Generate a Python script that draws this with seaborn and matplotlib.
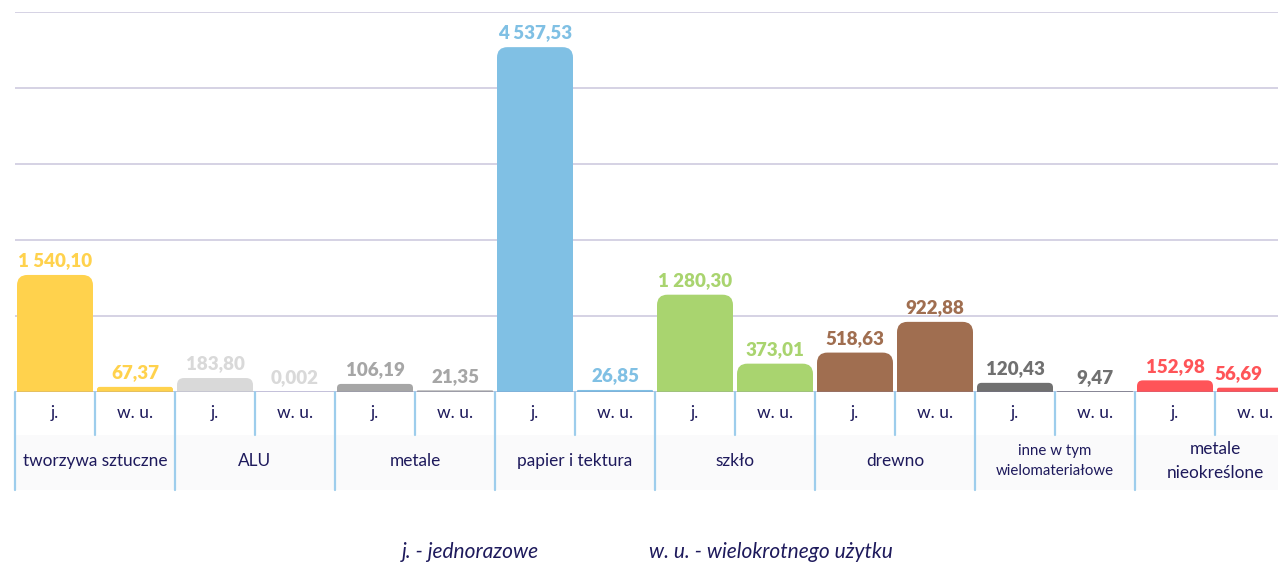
import numpy as np
import matplotlib
matplotlib.use("Agg")
import matplotlib.pyplot as plt
import matplotlib.transforms as mtransforms
from matplotlib.patches import FancyBboxPatch, Rectangle
import pandas as pd
import seaborn as sns

categories = ["tworzywa sztuczne", "ALU", "metale", "papier i tektura", "szkło",
              "drewno", "inne w tym\nwielomateriałowe", "metale\nnieokreślone"]
sub_labels = ["j.", "w. u."]
j_vals = [1540.10, 183.80, 106.19, 4537.53, 1280.30, 518.63, 120.43, 152.98]
wu_vals = [67.37, 0.002, 21.35, 26.85, 373.01, 922.88, 9.47, 56.69]
group_colors = ["#FFD24D", "#D9D9D9", "#A6A6A6", "#80C0E4",
                "#A9D46F", "#A06E50", "#707070", "#FF5458"]

navy = "#1E1A5C"
line_blue = "#9DCDEC"


def fmt(v):
    if v < 0.01:
        s = f"{v:.3f}"
    else:
        s = f"{v:,.2f}"
    return s.replace(",", " ").replace(".", ",")


rows = []
for i, c in enumerate(categories):
    rows.append({"slot": f"{i}j", "value": j_vals[i], "color": group_colors[i]})
    rows.append({"slot": f"{i}w", "value": wu_vals[i], "color": group_colors[i]})
df = pd.DataFrame(rows)

sns.set_theme(style="white")
plt.rcParams["font.family"] = ["Lato", "DejaVu Sans"]

fig = plt.figure(figsize=(12.78, 5.63), dpi=100)
ax = fig.add_axes([15 / 1278, 1 - 392 / 563, 1 - 15 / 1278, 380 / 563])

sns.barplot(data=df, x="slot", y="value", hue="slot", palette=list(df["color"]),
            legend=False, width=0.95, ax=ax, saturation=1)

ax.set_ylim(0, 5000)
xmax = (1278 - 15) / 80 - 0.5
ax.set_xlim(-0.5, xmax)
ax.set_yticks(np.arange(0, 5001, 1000))
ax.yaxis.grid(True, color="#D2CFE2", linewidth=1.3)
ax.set_axisbelow(True)
ax.tick_params(left=False, bottom=False, labelleft=False, labelbottom=False)
ax.set_xlabel("")
ax.set_ylabel("")
for s in ax.spines.values():
    s.set_visible(False)

# rounded tops on the bars
px_x = 80.0
px_y = 380 / 5000
aspect = px_x / px_y
bars = list(ax.patches)
for p, (_, r) in zip(bars, df.iterrows()):
    x0, w, h = p.get_x(), p.get_width(), p.get_height()
    p.set_visible(False)
    if h <= 0.01:
        continue
    rad = min(0.13, h / aspect / 2, w / 2)
    ax.add_patch(FancyBboxPatch((x0, 0), w, h,
                                boxstyle=f"round,pad=0,rounding_size={rad}",
                                mutation_aspect=aspect, facecolor=r["color"],
                                edgecolor="none", zorder=2))
    ax.add_patch(Rectangle((x0, 0), w, h / 2, facecolor=r["color"],
                           edgecolor="none", zorder=2))

for k, (p, (_, r)) in enumerate(zip(bars, df.iterrows())):
    cx = min(p.get_x() + p.get_width() / 2, xmax - 0.5)
    ax.annotate(fmt(r["value"]), (cx, r["value"]), xytext=(0, 4),
                textcoords="offset points", ha="center", va="bottom",
                fontsize=13.5, fontweight="heavy", color=r["color"], zorder=3)

ax.axhline(0, color="#7C79B2", linewidth=1, zorder=2.5)

# category table under the axis
trans = mtransforms.blended_transform_factory(ax.transData, ax.transAxes)
row1 = -43 / 380
row2 = -98 / 380
ax.add_patch(Rectangle((-0.5, row2), xmax + 0.5, row1 - row2, transform=trans,
                       facecolor="#FAFAFB", edgecolor="none", clip_on=False, zorder=1))
for g in range(len(categories)):
    left = -0.5 + 2 * g
    ax.plot([left, left], [0, row2], transform=trans, color=line_blue,
            linewidth=1.6, clip_on=False, zorder=3)
    ax.plot([left + 1, left + 1], [0, row1], transform=trans, color=line_blue,
            linewidth=1.6, clip_on=False, zorder=3)
    for s, lab in enumerate(sub_labels):
        ax.text(2 * g + s, -21 / 380, lab, transform=trans, ha="center", va="center",
                fontsize=12.5, color=navy)
    fs = 10.8 if g == 6 else 12.4
    ax.text(2 * g + 0.5, -69 / 380, categories[g], transform=trans, ha="center",
            va="center", fontsize=fs, color=navy, linespacing=1.55)

fig.text(470 / 1278, 1 - 552 / 563, "j. - jednorazowe", ha="center", va="center",
         fontsize=15, style="italic", color=navy)
fig.text(771 / 1278, 1 - 552 / 563, "w. u. - wielokrotnego użytku", ha="center",
         va="center", fontsize=15, style="italic", color=navy)

fig.savefig("out.png", dpi=100, facecolor="white")
